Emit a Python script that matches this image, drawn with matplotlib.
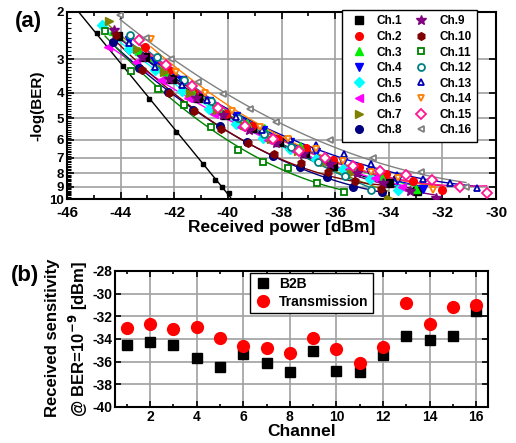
import numpy as np
import matplotlib.pyplot as plt
from matplotlib.ticker import FixedLocator, NullLocator, MultipleLocator

plt.rcParams['font.family'] = ['Liberation Sans', 'DejaVu Sans']
plt.rcParams['font.weight'] = 'bold'
plt.rcParams['mathtext.default'] = 'bf'
plt.rcParams['axes.unicode_minus'] = False

# ---- panel (a): -log(BER) vs received power, 16 channels ----
ref_x = [-44.89, -43.91, -42.93, -41.94, -40.94, -40.47, -40.22, -39.97]
ref_y = [2.40, 3.18, 4.23, 5.6, 7.4, 8.5, 9.0, 9.47]

ch_x = [
    [-44.1, -43.1, -42.1, -41.1, -40.1, -39.1, -38.1, -37.14, -36.08, -34.0, -32.96],
    [-43.1, -42.2, -41.25, -40.07, -39.1, -38.14, -37.08, -36.08, -35.1, -34.1, -33.1, -32.03],
    [-44.3, -43.3, -42.3, -41.3, -40.3, -39.3, -38.64, -37.3, -36.3, -35.3, -34.3, -32.97],
    [-43.7, -42.7, -41.7, -40.7, -39.7, -38.7, -37.7, -36.7, -35.7, -34.7, -33.7, -32.74],
    [-44.68, -43.7, -42.7, -41.7, -40.7, -39.7, -38.7, -37.7, -36.7, -35.7, -34.7, -33.65],
    [-44.46, -43.43, -42.5, -41.5, -40.5, -39.5, -38.5, -37.5, -36.5, -35.5, -34.5, -33.5],
    [-44.43, -43.4, -42.4, -41.4, -40.4, -39.4, -38.4, -37.4, -36.4, -35.4, -34.03],
    [-44.3, -43.3, -42.25, -41.3, -40.3, -39.3, -38.33, -37.3, -36.3, -35.33, -34.27],
    [-44.24, -43.2, -42.2, -41.2, -40.2, -39.2, -38.2, -37.2, -36.2, -35.2, -34.2, -33.2, -32.24],
    [-44.18, -43.19, -42.2, -41.25, -40.25, -39.26, -38.27, -37.27, -36.27, -35.27, -34.3],
    [-44.58, -43.6, -42.6, -41.63, -40.63, -39.63, -38.7, -37.76, -36.68, -35.68],
    [-43.64, -42.64, -41.64, -40.64, -39.64, -38.64, -37.64, -36.64, -35.64, -34.65],
    [-43.68, -42.7, -41.7, -40.76, -39.7, -38.74, -37.7, -36.7, -35.67, -34.68, -33.71, -32.74, -31.72, -30.72],
    [-42.87, -41.94, -40.85, -39.86, -38.8, -37.76, -36.7, -35.7, -34.68, -33.65, -32.34],
    [-43.3, -42.3, -41.35, -40.38, -39.36, -38.33, -37.35, -36.36, -35.33, -34.34, -33.34, -32.37, -31.35, -30.35],
    [-44.03, -43.06, -42.12, -41.13, -40.17, -39.17, -38.22, -36.2, -34.59, -32.8, -31.12],
]
ch_y = [
    [2.45, 2.95, 3.55, 4.2, 4.85, 5.45, 6.1, 6.75, 7.53, 8.7, 9.3],
    [2.7, 3.3, 4.0, 4.81, 5.35, 5.95, 6.47, 7.14, 7.6, 8.05, 8.6, 9.25],
    [2.35, 2.8, 3.4, 4.0, 4.65, 5.2, 5.42, 6.35, 7.0, 7.6, 8.2, 9.2],
    [2.55, 3.05, 3.6, 4.3, 4.9, 5.5, 6.1, 6.7, 7.3, 7.9, 8.5, 9.2],
    [2.24, 2.75, 3.3, 3.95, 4.6, 5.25, 5.9, 6.5, 7.1, 7.7, 8.4, 9.25],
    [2.7, 3.07, 3.6, 4.2, 4.8, 5.4, 6.0, 6.6, 7.15, 7.75, 8.35, 9.0],
    [2.16, 2.75, 3.35, 4.0, 4.65, 5.3, 5.95, 6.6, 7.25, 8.0, 9.9],
    [2.6, 3.25, 3.97, 4.65, 5.35, 6.1, 6.9, 7.6, 8.3, 9.0, 9.45],
    [2.34, 2.95, 3.55, 4.2, 4.85, 5.5, 6.15, 6.8, 7.4, 8.0, 8.75, 9.3, 9.9],
    [2.44, 3.3, 4.0, 4.68, 5.49, 6.2, 6.8, 7.36, 7.95, 8.55, 9.2],
    [2.35, 3.32, 3.89, 4.45, 5.37, 6.56, 7.26, 7.68, 8.69, 9.4],
    [2.44, 2.95, 3.6, 4.3, 5.0, 5.7, 6.4, 7.3, 8.2, 9.25],
    [2.62, 3.2, 3.75, 4.25, 4.95, 5.5, 5.95, 6.28, 6.8, 7.4, 8.1, 8.42, 8.74, 9.12],
    [2.53, 3.34, 4.03, 4.7, 5.4, 5.98, 6.5, 7.2, 7.9, 8.37, 9.25],
    [2.55, 3.15, 3.78, 4.58, 5.33, 5.98, 6.6, 7.04, 7.53, 7.84, 8.13, 8.5, 9.04, 9.47],
    [2.05, 2.5, 3.0, 3.65, 4.05, 4.6, 5.15, 6.0, 7.0, 7.95, 9.0],
]
ch_names = ['Ch.%d' % (i + 1) for i in range(16)]
ch_colors = ['black', 'red', '#00ee00', 'blue', 'cyan', '#ff00ff', '#808000', '#000080',
             '#800080', '#800000', '#008000', '#008080', '#0000b0', '#ff8000', '#ff1493', 'gray']
ch_marks = ['s', 'o', '^', 'v', 'D', '<', '>', 'o', '*', 'h', 's', 'o', '^', 'v', 'D', '<']
ch_open = [False] * 10 + [True] * 6

# ---- panel (b): sensitivity per channel ----
channels = list(range(1, 17))
b2b = [-34.5, -34.3, -34.5, -35.7, -36.5, -35.3, -36.1, -36.9, -35.05, -36.8, -36.9, -35.4, -33.7, -34.1, -33.75, -31.5]
trans = [-33.0, -32.65, -33.1, -32.9, -33.95, -34.6, -34.8, -35.2, -33.95, -34.9, -36.1, -34.7, -30.8, -32.65, -31.2, -31.0]

fig = plt.figure(figsize=(5.16, 4.43), dpi=100)
ax = fig.add_axes([67/516, 244/443, 429/516, 187/443])

# reference curve (straight in log space)
k = np.polyfit(ref_x, np.log10(ref_y), 1)
xx = np.linspace(-45.6, -39.9, 50)
ax.plot(xx, 10**np.polyval(k, xx), color='black', lw=1.0, zorder=3)
ax.plot(ref_x, ref_y, 's', color='black', ms=3.5, zorder=4)

for i in range(16):
    x = np.array(ch_x[i]); y = np.array(ch_y[i])
    p = np.polyfit(x, np.log10(y), 2)
    xx = np.linspace(x.min(), x.max(), 80)
    ax.plot(xx, 10**np.polyval(p, xx), color=ch_colors[i], lw=1.0, zorder=3)
    if ch_open[i]:
        ax.plot(x, y, ch_marks[i], mfc='white', mec=ch_colors[i], mew=1.3, ms=5,
                ls='none', label=ch_names[i], zorder=4)
    else:
        ms = 7 if ch_marks[i] == '*' else 5.5
        ax.plot(x, y, ch_marks[i], color=ch_colors[i], ms=ms, ls='none',
                label=ch_names[i], zorder=4)

ax.set_yscale('log')
ax.set_ylim(10, 2)
ax.set_xlim(-46, -30)
ax.yaxis.set_major_locator(FixedLocator([2, 3, 4, 5, 6, 7, 8, 9, 10]))
ax.yaxis.set_minor_locator(FixedLocator(np.arange(2.1, 10, 0.1)))
ax.yaxis.set_minor_formatter(plt.NullFormatter())
ax.set_yticklabels(['2', '3', '4', '5', '6', '7', '8', '9', '10'])
ax.xaxis.set_major_locator(MultipleLocator(2))
ax.xaxis.set_minor_locator(MultipleLocator(1))
ax.grid(True, which='major', color='#a0a0a0', lw=1.2)
ax.tick_params(which='both', direction='in', top=True, right=True, labelsize=11, width=1.2, pad=2)
ax.tick_params(axis='y', labelsize=9.5)
ax.tick_params(axis='x', pad=5)
ax.tick_params(which='major', length=5)
ax.tick_params(which='minor', length=3)
ax.tick_params(axis='y', which='minor', right=False, length=3, width=0.8)
for s in ax.spines.values():
    s.set_linewidth(1.5)
ax.set_xlabel('Received power [dBm]', fontsize=12.5, fontweight='bold', labelpad=0)
ax.set_ylabel('-log(BER)', fontsize=11, fontweight='bold', labelpad=4)
leg = ax.legend(ncol=2, loc='upper right', bbox_to_anchor=(0.955, 1.01), fontsize=8.5,
                frameon=True, fancybox=False, edgecolor='black', framealpha=1,
                labelspacing=0.3, columnspacing=0.6, handletextpad=0.5,
                handlelength=2.0, borderpad=0.45, borderaxespad=0)
leg.get_frame().set_linewidth(1.0)
fig.text(28/516, 1 - 22/443, '(a)', fontsize=16, fontweight='bold', ha='center', va='center')

ax2 = fig.add_axes([115/516, 36/443, 373/516, 136/443])
ax2.plot(channels, b2b, 's', color='black', ms=7.5, label='B2B', zorder=3)
ax2.plot(channels, trans, 'o', color='red', ms=8.5, label='Transmission', zorder=3)
ax2.set_xlim(0.5, 16.5)
ax2.set_ylim(-40, -28)
ax2.xaxis.set_major_locator(MultipleLocator(2))
ax2.xaxis.set_minor_locator(MultipleLocator(1))
ax2.yaxis.set_major_locator(MultipleLocator(2))
ax2.grid(True, which='major', color='#a0a0a0', lw=1.2)
ax2.set_axisbelow(True)
ax2.tick_params(which='both', direction='in', top=True, right=True, labelsize=10, width=1.2, pad=2)
ax2.tick_params(which='major', length=4)
ax2.tick_params(which='minor', length=2.5)
for s in ax2.spines.values():
    s.set_linewidth(1.5)
ax2.set_xlabel('Channel', fontsize=12.5, fontweight='bold', labelpad=0)
leg2 = ax2.legend(loc='upper left', bbox_to_anchor=(0.362, 0.9875), fontsize=10,
                  frameon=True, fancybox=False, edgecolor='black', framealpha=1,
                  labelspacing=0.3, handletextpad=0.6, handlelength=1.2, borderpad=0.3,
                  borderaxespad=0)
leg2.get_frame().set_linewidth(1.0)
fig.text(53/516, 1 - 338/443, 'Received sensitivity', rotation=90, fontsize=12,
         fontweight='bold', ha='center', va='center')
fig.text(78/516, 1 - 339/443, '@ BER=10$^{-9}$ [dBm]', rotation=90, fontsize=12,
         fontweight='bold', ha='center', va='center')
fig.text(25/516, 1 - 275/443, '(b)', fontsize=16, fontweight='bold', ha='center', va='center')

fig.savefig('out.png', dpi=100)
